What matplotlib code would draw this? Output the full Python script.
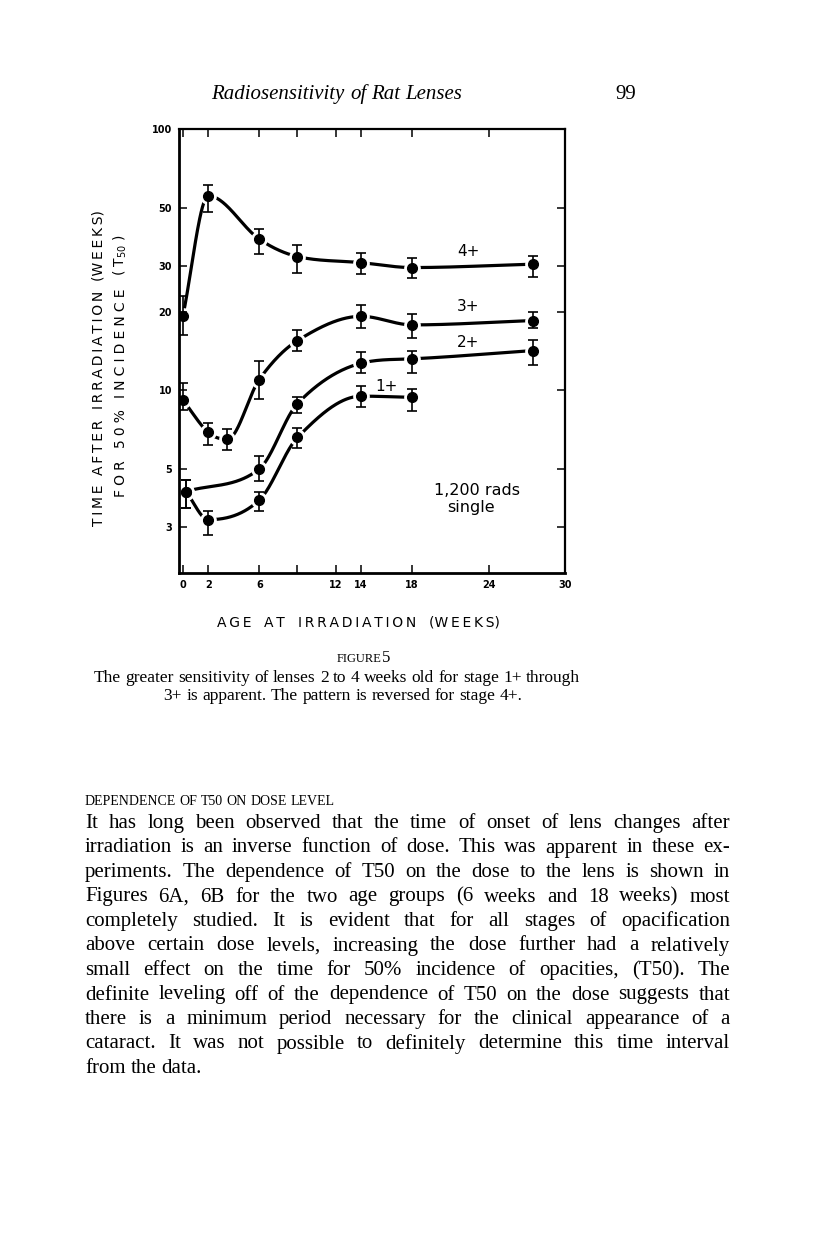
import numpy as np
import matplotlib
matplotlib.use("Agg")
import matplotlib.pyplot as plt

# ---- data (T50 in weeks, age at irradiation in weeks) ----
age_4 = [0, 2, 6, 9, 14, 18, 27.5]
t50_4 = [19.2, 55.5, 37.9, 32.5, 30.8, 29.5, 30.4]
lo_4 = [16.3, 48.3, 33.3, 28.2, 27.9, 26.9, 27.1]
hi_4 = [22.9, 61.2, 41.4, 36.1, 33.5, 32.0, 32.7]

age_3 = [0, 2, 3.5, 6, 9, 14, 18, 27.5]
t50_3 = [9.2, 6.9, 6.5, 11.0, 15.5, 19.2, 17.8, 18.5]
lo_3 = [8.4, 6.2, 5.9, 9.3, 14.1, 17.3, 15.8, 17.3]
hi_3 = [10.7, 7.5, 7.1, 12.9, 17.0, 21.3, 19.6, 20.0]

age_2 = [0.25, 6, 9, 14, 18, 27.5]
t50_2 = [4.1, 5.0, 8.9, 12.7, 13.2, 14.2]
lo_2 = [3.55, 4.5, 8.2, 11.6, 11.7, 12.5]
hi_2 = [4.55, 5.6, 9.4, 14.0, 14.2, 15.6]

age_1 = [0.25, 2, 6, 9, 14, 18]
t50_1 = [4.1, 3.2, 3.8, 6.6, 9.5, 9.4]
lo_1 = [3.55, 2.8, 3.45, 6.0, 8.6, 8.3]
hi_1 = [4.55, 3.45, 4.1, 7.2, 10.4, 10.1]

stage_labels = ["4+", "3+", "2+", "1+"]

x_ticks = [0, 2, 6, 9, 12, 14, 18, 24, 30]
x_ticklabels = ["0", "2", "6", "", "12", "14", "18", "24", "30"]
y_ticks = [3, 5, 10, 20, 30, 50, 100]
y_ticklabels = ["3", "5", "10", "20", "30", "50", "100"]

xlabel_words = ["AGE", "AT", "IRRADIATION", "(WEEKS)"]
ylabel1_words = ["TIME", "AFTER", "IRRADIATION", "(WEEKS)"]
ylabel2_words = ["FOR", "50%", "INCIDENCE", "(T$_{50}$)"]

header = "Radiosensitivity of Rat Lenses"
page_no = "99"
caption = ["The greater sensitivity of lenses 2 to 4 weeks old for stage 1+ through",
           "3+ is apparent. The pattern is reversed for stage 4+."]
heading = "DEPENDENCE OF T50 ON DOSE LEVEL"
body = [
    "It has long been observed that the time of onset of lens changes after",
    "irradiation is an inverse function of dose. This was apparent in these ex-",
    "periments. The dependence of T50 on the dose to the lens is shown in",
    "Figures 6A, 6B for the two age groups (6 weeks and 18 weeks) most",
    "completely studied. It is evident that for all stages of opacification",
    "above certain dose levels, increasing the dose further had a relatively",
    "small effect on the time for 50% incidence of opacities, (T50). The",
    "definite leveling off of the dependence of T50 on the dose suggests that",
    "there is a minimum period necessary for the clinical appearance of a",
    "cataract. It was not possible to definitely determine this time interval",
    "from the data.",
]


def smooth_curve(x, y, xs):
    # hermite curve through the points (centred tangents, flat at extrema)
    x = np.asarray(x, float)
    y = np.asarray(y, float)
    h = np.diff(x)
    d = np.diff(y) / h
    m = np.zeros_like(y)
    m[0], m[-1] = d[0], d[-1]
    for k in range(1, len(x) - 1):
        if d[k - 1] * d[k] > 0:
            m[k] = (y[k + 1] - y[k - 1]) / (x[k + 1] - x[k - 1])
    for k in range(len(d)):
        if d[k] == 0:
            m[k] = m[k + 1] = 0
            continue
        a, b = m[k] / d[k], m[k + 1] / d[k]
        if a * a + b * b > 9:
            tau = 3 / np.hypot(a, b)
            m[k], m[k + 1] = tau * a * d[k], tau * b * d[k]
    idx = np.clip(np.searchsorted(x, xs) - 1, 0, len(x) - 2)
    t = (xs - x[idx]) / h[idx]
    h00 = 2 * t**3 - 3 * t**2 + 1
    h10 = t**3 - 2 * t**2 + t
    h01 = -2 * t**3 + 3 * t**2
    h11 = t**3 - t**2
    return (h00 * y[idx] + h10 * h[idx] * m[idx]
            + h01 * y[idx + 1] + h11 * h[idx] * m[idx + 1])


W, H = 816, 1246
fig = plt.figure(figsize=(W / 100, H / 100), dpi=100)
fig.patch.set_facecolor("white")
renderer = fig.canvas.get_renderer()
HAIR = "\u200a"


def text_width(s, **kw):
    t = fig.text(0, 0, s, **kw)
    w = t.get_window_extent(renderer).width
    t.remove()
    return w


def place(word, x_px, y_px, kw, rotation=0):
    # word with its baseline start at (x_px, y_px), page pixels from top-left
    return fig.text(x_px / W, 1 - y_px / H, word, rotation=rotation,
                    rotation_mode="anchor", ha="left", va="baseline", **kw)


def line_of_words(line, y_px, kw, left=None, right=None, center=None):
    words = line.split()
    widths = [text_width(w, **kw) for w in words]
    gap = text_width("x x", **kw) - text_width("xx", **kw)
    if left is not None and right is not None and len(words) > 1:
        gap = (right - left - sum(widths)) / (len(words) - 1)
        x = left
    elif center is not None:
        x = center - (sum(widths) + gap * (len(words) - 1)) / 2
    else:
        x = left
    for w, wd in zip(words, widths):
        place(w, x, y_px, kw)
        x += wd + gap


def track(word, k):
    # k hair spaces between letters; brackets stay tight
    if "$" in word:
        units = ["(", word[1:-1], ")"]
    else:
        units = list(word)
        if units[0] == "(":
            units = [units[0] + units[1]] + units[2:]
        if units[-1] == ")":
            units = units[:-2] + [units[-2] + units[-1]]
    return (HAIR * k).join(units)


def spaced_label(words, start, end, base, kw, rotation=0, want_gap=14):
    # pick one letter spacing for the whole title, words fill start..end
    length = abs(end - start)
    best = None
    for k in range(0, 6):
        strs = [track(w, k) for w in words]
        widths = [text_width(s, **kw) for s in strs]
        gap = (length - sum(widths)) / (len(words) - 1)
        if best is None or abs(gap - want_gap) < abs(best[2] - want_gap):
            best = (strs, widths, gap)
    strs, widths, gap = best
    pos = start
    step = 1 if end > start else -1
    for s, wd in zip(strs, widths):
        if rotation == 0:
            place(s, pos, base, kw)
        else:
            place(s, base, pos, kw, rotation=rotation)
        pos += step * (wd + gap)


ax_l, ax_r, ax_t, ax_b = 179, 565, 129, 573
ax = fig.add_axes([ax_l / W, 1 - ax_b / H, (ax_r - ax_l) / W, (ax_b - ax_t) / H])
ax.set_yscale("log")
ax.set_xlim(-0.3, 30)
ax.set_ylim(2, 100)

series = [(age_4, t50_4, lo_4, hi_4), (age_3, t50_3, lo_3, hi_3),
          (age_2, t50_2, lo_2, hi_2), (age_1, t50_1, lo_1, hi_1)]

for xs_, ys_, lo, hi in series:
    xx = np.linspace(xs_[0], xs_[-1], 500)
    yy = 10 ** smooth_curve(xs_, np.log10(ys_), xx)
    ax.plot(xx, yy, color="black", lw=2.3, solid_capstyle="round", zorder=1)
    ax.plot(xs_, ys_, "o", ms=11, color="white", mec="white", zorder=1.5)
    yerr = [np.array(ys_) - np.array(lo), np.array(hi) - np.array(ys_)]
    ax.errorbar(xs_, ys_, yerr=yerr, fmt="none", ecolor="black",
                elinewidth=1.2, capsize=3.5, capthick=1.2, zorder=3)
    ax.plot(xs_, ys_, "o", ms=7, color="black", zorder=4)

sans = ["DejaVu Sans"]
label_pos = [(22.4, 33.9), (22.4, 20.9), (22.4, 15.2), (16.0, 10.3)]
for lab, (lx, ly) in zip(stage_labels, label_pos):
    ax.text(lx, ly, lab, fontsize=11, family=sans, ha="center", va="center")

ax.text(23.1, 4.15, "1,200 rads", fontsize=11.5, family=sans,
        ha="center", va="center")
ax.text(22.6, 3.55, "single", fontsize=11.5, family=sans,
        ha="center", va="center")

ax.set_xticks(x_ticks)
ax.set_xticklabels(x_ticklabels)
ax.set_yticks(y_ticks)
ax.set_yticklabels(y_ticklabels)
ax.yaxis.set_minor_locator(matplotlib.ticker.NullLocator())
ax.tick_params(direction="in", length=6, width=1.1, top=True, right=True,
               labelsize=7, pad=5)
for lab in ax.get_xticklabels() + ax.get_yticklabels():
    lab.set_fontweight("bold")
    lab.set_family(sans)
for side in ["left", "bottom"]:
    ax.spines[side].set_linewidth(2.0)
for side in ["top", "right"]:
    ax.spines[side].set_linewidth(1.6)
for sp in ax.spines.values():
    sp.set_zorder(1.8)

# axis titles, word by word
lab_kw = dict(fontsize=10, family=sans)
spaced_label(xlabel_words, 217, 500, 627, lab_kw)
spaced_label(ylabel1_words, 526, 210, 103, lab_kw, rotation=90)
spaced_label(ylabel2_words, 497, 235, 125, lab_kw, rotation=90)

# ---- page text ----
serif = ["Liberation Serif", "DejaVu Serif"]
line_of_words(header, 99, dict(fontsize=15, family=serif, style="italic"),
              center=337)
place(page_no, 615, 99, dict(fontsize=15, family=serif))
place("FIGURE", 337, 662, dict(fontsize=9, family=serif))
place("5", 382, 662, dict(fontsize=12, family=serif))
cap_kw = dict(fontsize=12.5, family=serif)
line_of_words(caption[0], 682, cap_kw, center=337)
line_of_words(caption[1], 700, cap_kw, center=343)
line_of_words(heading, 805, dict(fontsize=10, family=serif), left=85)

left, right = 85, 730
y0, dy = 828, 24.5
body_kw = dict(fontsize=15, family=serif)
for i, line in enumerate(body):
    if i < len(body) - 1:
        line_of_words(line, y0 + i * dy, body_kw, left=left, right=right)
    else:
        line_of_words(line, y0 + i * dy, body_kw, left=left)

fig.savefig("out.png", dpi=100, facecolor="white")
